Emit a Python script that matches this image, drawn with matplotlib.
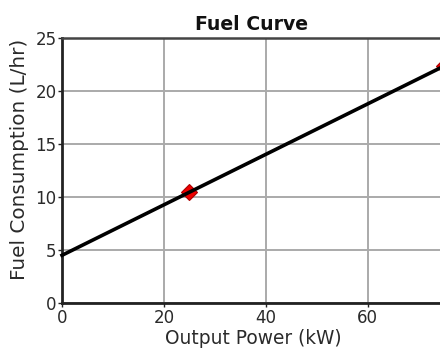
import matplotlib
matplotlib.use("Agg")
import matplotlib.pyplot as plt

power_kw = [0, 25, 75]
fuel_lhr = [4.5, 10.45, 22.35]
marker_power = [25, 75]
marker_fuel = [10.45, 22.35]
xticks = [0, 20, 40, 60]
yticks = [0, 5, 10, 15, 20, 25]

plt.rcParams['font.family'] = ['DejaVu Sans']

fig = plt.figure(figsize=(4.4, 3.49), dpi=100)
W, H = 440, 349
left, right, top, bottom = 62, 444, 38, 303
ax = fig.add_axes([left / W, 1 - bottom / H, (right - left) / W, (bottom - top) / H])

ax.set_xlim(0, 75)
ax.set_ylim(0, 25)
ax.set_xticks(xticks)
ax.set_yticks(yticks)
ax.grid(True, color='#aaaaaa', linewidth=1.4)
ax.set_axisbelow(True)

ax.plot(marker_power, marker_fuel, linestyle='none', marker='D', markersize=8,
        markerfacecolor='#ee0000', markeredgecolor='#aa0000', markeredgewidth=0.8,
        zorder=3, clip_on=False)
ax.plot(power_kw, fuel_lhr, color='black', linewidth=2.6, zorder=4, clip_on=False)

for s in ['left', 'bottom']:
    ax.spines[s].set_color('#222222')
    ax.spines[s].set_linewidth(2.0)
ax.spines['top'].set_color('#444444')
ax.spines['top'].set_linewidth(1.8)
ax.spines['right'].set_visible(False)

ax.tick_params(axis='both', direction='out', length=3, width=1, color='#222222',
               labelsize=12, pad=1, labelcolor='#2a2a2a')

fig.text(251 / W, 1 - 24 / H, 'Fuel Curve', ha='center', va='center',
         fontsize=13.6, fontweight='bold', color='#111111')
fig.text(253 / W, 1 - 338 / H, 'Output Power (kW)', ha='center', va='center',
         fontsize=13.4, color='#2a2a2a')
fig.text(20 / W, 1 - 159 / H, 'Fuel Consumption (L/hr)', ha='center', va='center',
         rotation=90, fontsize=14.4, color='#2a2a2a')

fig.savefig('out.png', dpi=100)
